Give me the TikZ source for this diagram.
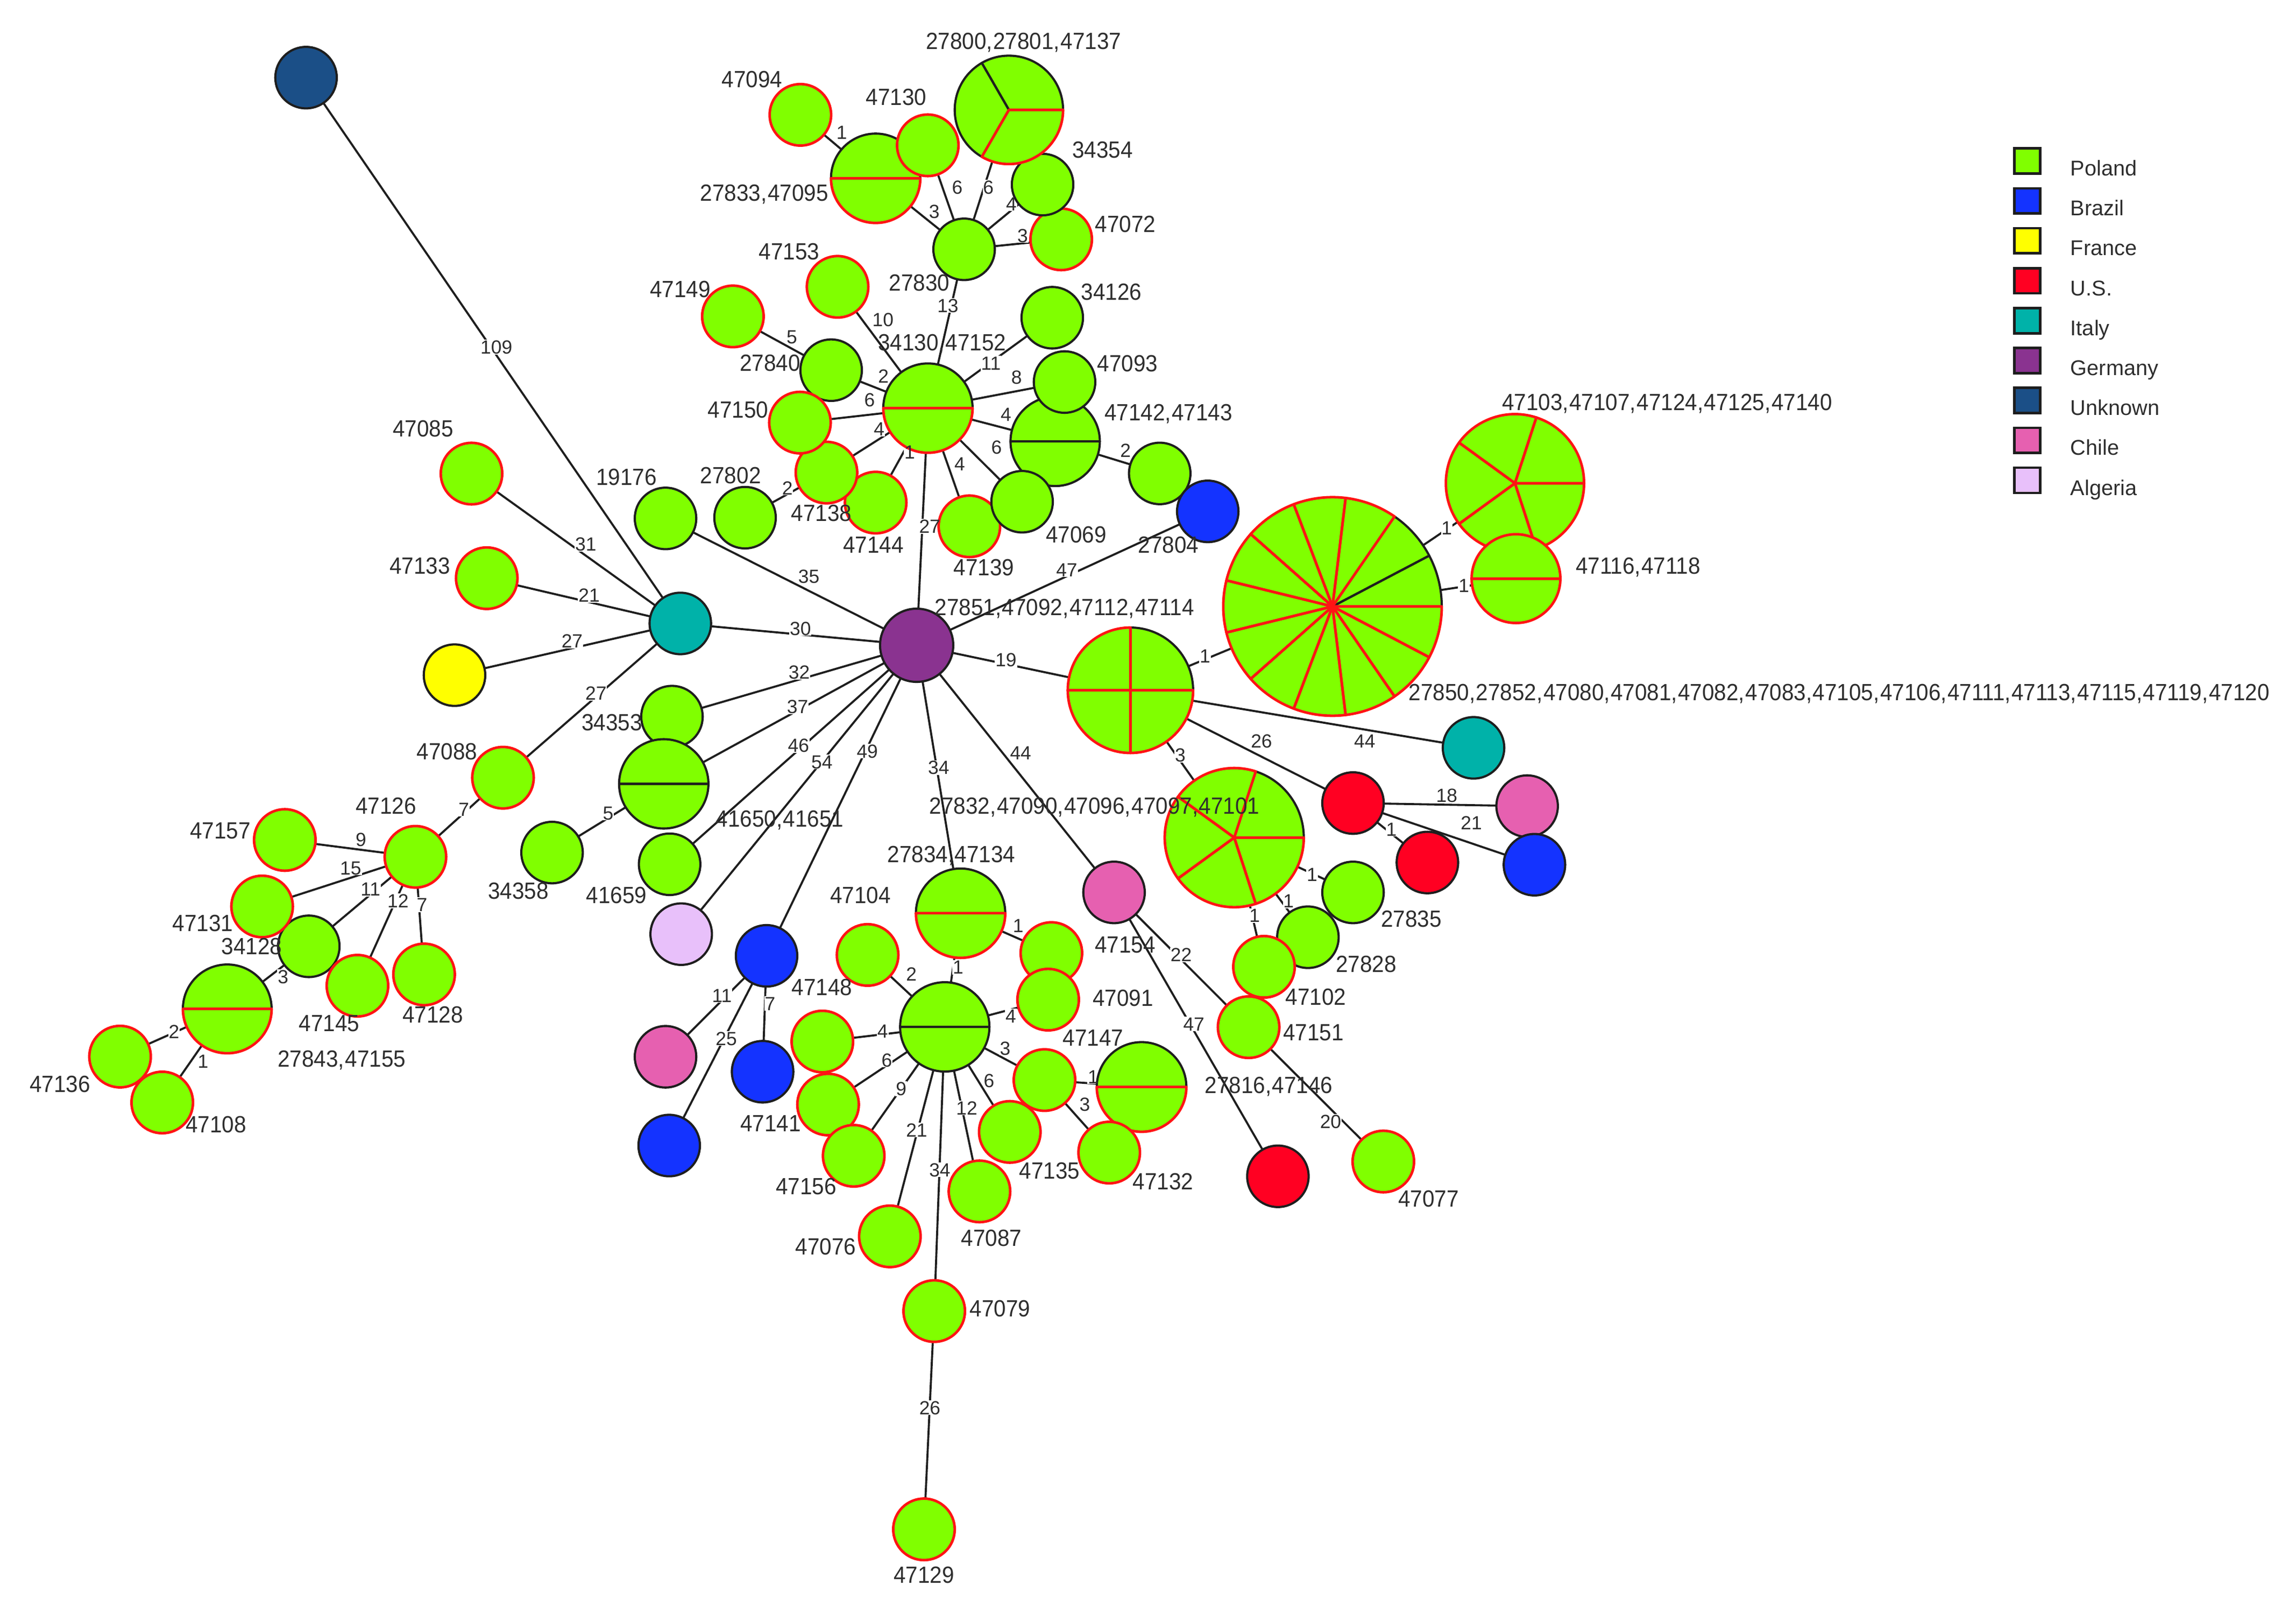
\documentclass[tikz,border=0pt]{standalone}
\usepackage{fontspec}
\setmainfont{Liberation Sans}
\newfontfamily\nmfont[FakeStretch=0.93]{Liberation Sans}
\definecolor{cgreen}{HTML}{80FF00}
\definecolor{cblue}{HTML}{1433FF}
\definecolor{cyellow}{HTML}{FFFF00}
\definecolor{cred}{HTML}{FF0022}
\definecolor{cteal}{HTML}{00B2A9}
\definecolor{cpurple}{HTML}{8A3390}
\definecolor{cnavy}{HTML}{1B4F87}
\definecolor{cpink}{HTML}{E660B0}
\definecolor{clilac}{HTML}{E8C0FA}
\definecolor{lk}{HTML}{1E1E1E}
\definecolor{rd}{HTML}{FF1414}
\definecolor{tx}{HTML}{2E2E2E}
\pgfdeclarelayer{edges}
\pgfdeclarelayer{labbg}
\pgfdeclarelayer{top}
\pgfsetlayers{edges,labbg,main,top}
\tikzset{
  edge/.style={draw=lk,line width=0.8pt},
  nd/.style={circle,inner sep=0pt,outer sep=0pt,minimum size=0.84cm},
  ndk/.style={nd,draw=lk,line width=0.85pt},
  ndr/.style={nd,draw=rd,line width=1pt},
  slk/.style={draw=lk,line width=0.85pt,line join=round},
  srd/.style={draw=rd,line width=1pt,line join=round},
  nlab/.style={inner sep=0pt,outer sep=0pt,text=tx,text height=6.5pt,text depth=0pt,
    font=\nmfont\fontsize{9.1pt}{11pt}\selectfont},
  elab/.style={inner sep=0pt,outer sep=0pt,text=tx,text height=5.3pt,text depth=0pt,
    font=\fontsize{7.4pt}{9pt}\selectfont},
  elabbg/.style={elab,fill=white,inner sep=0.2pt},
  swatch/.style={draw=lk,line width=1pt,minimum width=0.352cm,minimum height=0.344cm,inner sep=0pt,outer sep=0pt},
  leglab/.style={inner sep=0pt,outer sep=0pt,anchor=base west,text=tx,font=\fontsize{8.3pt}{10pt}\selectfont}
}
% plain node: name, x, y, fill
\newcommand\Nk[4]{\node[ndk,fill=#4] (#1) at (#2,#3) {};}
\newcommand\Nr[3]{\node[ndr,fill=cgreen] (#1) at (#2,#3) {};}
% pie node: name, x, y, radius, slices (start/end/style)
\newcommand\Pie[5]{%
  \pgfmathsetmacro\rr{#4*0.02}%
  \node[circle,inner sep=0pt,outer sep=0pt,minimum size=2*\rr cm,fill=cgreen] (#1) at (#2,#3) {};
  \foreach \sa/\sb/\sc in {#5} {
    \draw[\sc] (#2,#3) -- ++(\sa:\rr cm) arc[start angle=\sa,end angle=\sb,radius=\rr cm] -- cycle;
  }%
}
% edge: a, b, label, label x, label y
\newcommand\E[5]{%
  \begin{pgfonlayer}{edges}\draw[edge] (#1) -- (#2);\end{pgfonlayer}%
  \begin{pgfonlayer}{labbg}\node[elabbg] (b#1#2) at (#4,#5) {\phantom{#3}};\end{pgfonlayer}%
  \begin{pgfonlayer}{top}\node[elab] (l#1#2) at (#4,#5) {#3};\end{pgfonlayer}%
}
% name label
\newcommand\Nm[4]{\begin{pgfonlayer}{top}\node[nlab] (t#1) at (#2,#3) {\spaceskip=0.3pt\relax #4};\end{pgfonlayer}}
\begin{document}
\begin{tikzpicture}[x=0.02cm,y=-0.02cm]
\useasboundingbox (0,0) rectangle (1568,1097);

% ---------- nodes, in stacking order ----------
\Nk{unk}{209}{53}{cnavy}
\Nr{a47094}{546.6}{78.4}
\Pie{p27833}{598}{121.7}{30.5}{0/180/slk,180/360/srd}
\Nr{a47130}{633.6}{99.2}
\Nr{a47072}{724.7}{163.4}
\Nk{a34354}{712}{126}{cgreen}
\Pie{p27800}{689}{75}{37}{0/120/slk,120/240/slk,240/360/srd}
\Nk{a27830}{658.4}{170.2}{cgreen}
\Nr{a47153}{572}{195.8}
\Nr{a47149}{500.5}{216}
\Nk{a34126}{718.6}{216.9}{cgreen}
\Nk{a27840}{567.6}{252.7}{cgreen}
\Pie{p34130}{633.7}{278.6}{30.5}{0/180/slk,180/360/srd}
\Pie{p47142}{720.6}{301.3}{30.5}{0/180/slk,180/360/slk}
\Nk{a47093}{727}{260.8}{cgreen}
\Nr{a47144}{598}{343.1}
\Nr{a47138}{564.4}{322.6}
\Nr{a47150}{546.3}{288.5}
\Nr{a47139}{662}{359.3}
\Nk{a47069}{698}{342.5}{cgreen}
\Nk{a19176}{454.5}{353.9}{cgreen}
\Nk{a27802}{508.8}{353.4}{cgreen}
\Nk{aitaly}{464.6}{425.6}{cteal}
\node[ndk,fill=cpurple,minimum size=1cm] (agerm) at (626,440.5) {};
\Nk{a27804}{792}{323.2}{cgreen}
\Nk{ablue}{824.8}{349.1}{cblue}
\Pie{pbig}{910}{414}{74.6}{0/27.7/slk,27.7/55.4/slk,55.4/83.1/srd,83.1/110.8/srd,110.8/138.5/srd,138.5/166.2/srd,166.2/193.8/srd,193.8/221.5/srd,221.5/249.2/srd,249.2/276.9/srd,276.9/304.6/srd,304.6/332.3/srd,332.3/360/srd}
\Pie{p47103}{1034.6}{329.9}{47.2}{0/72/srd,72/144/srd,144/216/srd,216/288/srd,288/360/srd}
\Pie{p47116}{1035.3}{395}{30.3}{0/180/srd,180/360/srd}
\Pie{p27851}{772}{471.2}{42.8}{0/90/slk,90/180/srd,180/270/srd,270/360/srd}
\Nk{ateal}{1006.3}{510.5}{cteal}
\Nk{ared}{924}{548.2}{cred}
\Nk{achile}{1042.9}{550.3}{cpink}
\Nk{ared2}{974.8}{588.8}{cred}
\Nk{ablue2}{1047.9}{590.3}{cblue}
\Pie{p27832}{842.9}{571.8}{47.5}{0/72/slk,72/144/srd,144/216/srd,216/288/srd,288/360/srd}
\Nk{a27828}{893.2}{639.8}{cgreen}
\Nk{a27835}{924}{609.2}{cgreen}
\Nr{a47102}{863.2}{660}
\Nr{a47151}{852.7}{701.2}
\Nk{a47154}{760.8}{609.2}{cpink}
\Pie{p27816}{779.6}{742}{30.6}{0/180/slk,180/360/srd}
\Nr{a47135}{689.6}{772.7}
\Nr{a47147}{713.3}{737.3}
\Nr{a47132}{757.5}{786.8}
\Nk{aus3}{872.7}{803}{cred}
\Nr{a47077}{944.7}{792.9}
\Nr{aup}{718}{650.6}
\Nr{a47091}{715.8}{682.4}
\Pie{p27834}{656}{623.4}{30.5}{0/180/slk,180/360/srd}
\Nr{a47104}{592.5}{651.9}
\Pie{pcen}{645.2}{701}{30.5}{0/180/slk,180/360/slk}
\Nk{aalg}{465.2}{637.7}{clilac}
\Nk{ablue3}{523.5}{652.5}{cblue}
\Nk{a41659}{457.3}{590}{cgreen}
\Nk{achile3}{454.5}{721.4}{cpink}
\Nk{ablue4}{520.8}{731.6}{cblue}
\Nk{ablue5}{457}{782}{cblue}
\Nr{aleft}{561.6}{711}
\Nr{a47141}{565.5}{754}
\Nr{a47156}{583}{789}
\Nr{a47076}{607.7}{844}
\Nr{a47087}{668.9}{813.3}
\Nr{a47079}{638}{895}
\Nr{a47129}{631}{1044}
\Nr{a47085}{322}{323.3}
\Nr{a47133}{332.4}{394.7}
\Nk{ayellow}{310.4}{460.9}{cyellow}
\Nk{a34353}{458.9}{489.2}{cgreen}
\Pie{p41650}{453.3}{535.1}{30.5}{0/180/slk,180/360/slk}
\Nr{a47088}{343.5}{530.9}
\Nk{a34358}{377}{582}{cgreen}
\Nr{a47126}{283.7}{584.9}
\Nr{a47157}{194.5}{573.4}
\Nk{a34128}{210.9}{646}{cgreen}
\Nr{a47131}{179}{618.8}
\Nr{a47145}{244.1}{672.9}
\Nr{a47128}{289.6}{665.2}
\Pie{p27843}{155.2}{688.7}{30.3}{0/180/slk,180/360/srd}
\Nr{a47136}{82}{721.3}
\Nr{a47108}{110.8}{752.6}

% ---------- connectors with their numbers ----------
\E{unk}{aitaly}{109}{339}{237}
\E{a47085}{aitaly}{31}{400}{371.5}
\E{a47133}{aitaly}{21}{402.3}{406.3}
\E{ayellow}{aitaly}{27}{390.7}{437.6}
\E{a47088}{aitaly}{27}{407}{473.2}
\E{aitaly}{agerm}{30}{546.6}{429}
\E{a19176}{agerm}{35}{552.4}{393.3}
\E{a34353}{agerm}{32}{545.8}{458.9}
\E{p41650}{agerm}{37}{544.7}{482.4}
\E{a41659}{agerm}{46}{545.3}{508.8}
\E{aalg}{agerm}{54}{561.3}{520}
\E{ablue3}{agerm}{49}{592.3}{512.7}
\E{p27834}{agerm}{34}{641}{524}
\E{a47154}{agerm}{44}{697}{514}
\E{p27851}{agerm}{19}{687}{450.4}
\E{ablue}{agerm}{47}{728.5}{389}
\E{p34130}{agerm}{27}{634.9}{359.3}
\E{p34130}{a27830}{13}{647.3}{208.6}
\E{p34130}{a47153}{10}{603}{218}
\E{p34130}{a27840}{2}{603.3}{256.8}
\E{p34130}{a34126}{11}{676.7}{248}
\E{p34130}{a47093}{8}{694.2}{257.3}
\E{p34130}{a47150}{6}{593.9}{273}
\E{p34130}{p47142}{4}{687}{282.7}
\E{p34130}{a47138}{4}{600.4}{292.9}
\E{p34130}{a47144}{1}{621.2}{308.5}
\E{p34130}{a47069}{6}{680.6}{305.2}
\E{p34130}{a47139}{4}{655.4}{316.7}
\E{a27840}{a47149}{5}{540.8}{229.9}
\E{a47138}{a27802}{2}{537.7}{333}
\E{a27830}{p27833}{3}{638}{144.3}
\E{a27830}{a47130}{6}{653.7}{127.9}
\E{a27830}{p27800}{6}{675}{127.9}
\E{a27830}{a34354}{4}{690.7}{139}
\E{a27830}{a47072}{3}{698.4}{160.7}
\E{p27833}{a47094}{1}{574.8}{90.5}
\E{p47142}{a27804}{2}{768.6}{307.4}
\E{p27851}{pbig}{1}{822.9}{447.6}
\E{pbig}{p47103}{1}{988}{360.5}
\E{pbig}{p47116}{1}{999.7}{399.5}
\E{p27851}{ared}{26}{861.5}{506}
\E{p27851}{ateal}{44}{932}{506}
\E{p27851}{p27832}{3}{806}{515.5}
\E{ared}{achile}{18}{988}{543}
\E{ared}{ablue2}{21}{1004.8}{561.5}
\E{ared}{ared2}{1}{950.2}{566}
\E{p27832}{a27835}{1}{896}{597}
\E{p27832}{a27828}{1}{880}{615}
\E{p27832}{a47102}{1}{856.8}{625}
\E{a47154}{a47151}{22}{806.6}{651.8}
\E{a47151}{a47077}{20}{908.7}{765.4}
\E{a47154}{aus3}{47}{815.3}{699}
\E{p27834}{aup}{1}{695.3}{632}
\E{p27834}{pcen}{1}{654.3}{660.3}
\E{pcen}{a47104}{2}{622.4}{664.8}
\E{pcen}{a47091}{4}{690.3}{693.5}
\E{pcen}{aleft}{4}{602.8}{703.8}
\E{pcen}{a47147}{3}{686.4}{715.6}
\E{pcen}{a47141}{6}{605.6}{723.5}
\E{pcen}{a47135}{6}{675.4}{737.6}
\E{pcen}{a47156}{9}{615.4}{743.2}
\E{pcen}{a47087}{12}{660.2}{756.3}
\E{pcen}{a47076}{21}{626}{771.3}
\E{pcen}{a47079}{34}{641.8}{798.5}
\E{a47079}{a47129}{26}{635}{961}
\E{a47147}{p27816}{1}{746.5}{735}
\E{a47147}{a47132}{3}{740.8}{753.9}
\E{ablue3}{achile3}{11}{493}{679.5}
\E{ablue3}{ablue4}{7}{525.9}{685}
\E{ablue3}{ablue5}{25}{496}{709}
\E{p41650}{a34358}{5}{415.3}{555}
\E{a47088}{a47126}{7}{316.8}{552.5}
\E{a47126}{a47157}{9}{246.5}{573}
\E{a47126}{a47131}{15}{239.5}{592.5}
\E{a47126}{a34128}{11}{253}{607}
\E{a47126}{a47145}{12}{271.8}{615}
\E{a47126}{a47128}{7}{288.2}{617.6}
\E{a34128}{p27843}{3}{193.3}{666.8}
\E{p27843}{a47136}{2}{118.8}{704.2}
\E{p27843}{a47108}{1}{138.7}{724.5}

% ---------- strain names ----------
\Nm{n27800}{699}{27.9}{27800, 27801, 47137}
\Nm{n47094}{513.6}{54}{47094}
\Nm{n47130}{612}{66}{47130}
\Nm{n34354}{753}{102}{34354}
\Nm{n27833}{522}{131.6}{27833, 47095}
\Nm{n47072}{768.5}{153}{47072}
\Nm{n47153}{539}{171.4}{47153}
\Nm{n27830}{627.8}{193}{27830}
\Nm{n47149}{464.5}{197.3}{47149}
\Nm{n34126}{759}{199}{34126}
\Nm{n34130}{643.4}{233.7}{34130, 47152}
\Nm{n27840}{526}{247.7}{27840}
\Nm{n47093}{770}{248}{47093}
\Nm{n47150}{504}{279.5}{47150}
\Nm{n47142}{798}{281.4}{47142, 47143}
\Nm{n19176}{427.8}{325.4}{19176}
\Nm{n27802}{499}{324.4}{27802}
\Nm{n47138}{561}{350}{47138}
\Nm{n47144}{596.5}{371.6}{47144}
\Nm{n47069}{735}{364.8}{47069}
\Nm{n47139}{672}{387.2}{47139}
\Nm{n27804}{798}{371.7}{27804}
\Nm{n27851}{727}{414.3}{27851, 47092, 47112, 47114}
\Nm{n47103}{1138.5}{274.4}{47103, 47107, 47124, 47125, 47140}
\Nm{n47116}{1118.7}{386}{47116, 47118}
\Nm{n27850}{1256}{472.3}{27850, 27852, 47080, 47081, 47082, 47083, 47105, 47106, 47111, 47113, 47115, 47119, 47120}
\Nm{n27832}{747.5}{549.8}{27832, 47090, 47096, 47097, 47101}
\Nm{n47085}{289}{292.4}{47085}
\Nm{n47133}{286.7}{386}{47133}
\Nm{n34353}{417.9}{493}{34353}
\Nm{n47088}{305.3}{513}{47088}
\Nm{n41650}{532.5}{558.6}{41650, 41651}
\Nm{n41659}{421}{611}{41659}
\Nm{n34358}{354}{608}{34358}
\Nm{n47126}{263.6}{550}{47126}
\Nm{n47157}{150.4}{567}{47157}
\Nm{n47131}{138.5}{630}{47131}
\Nm{n34128}{172}{645.8}{34128}
\Nm{n47145}{224.9}{698.2}{47145}
\Nm{n47128}{295.5}{692.6}{47128}
\Nm{n27843}{233.4}{722.5}{27843, 47155}
\Nm{n47136}{41}{740}{47136}
\Nm{n47108}{147.6}{767.3}{47108}
\Nm{n27834}{649.7}{583}{27834, 47134}
\Nm{n47104}{587.6}{611}{47104}
\Nm{n47148}{561.4}{673.9}{47148}
\Nm{n47091}{767}{681}{47091}
\Nm{n47147}{746.6}{708.4}{47147}
\Nm{n47154}{768.4}{644.7}{47154}
\Nm{n27835}{963.8}{627}{27835}
\Nm{n27828}{933}{657.8}{27828}
\Nm{n47102}{898.7}{680.5}{47102}
\Nm{n47151}{897}{704.8}{47151}
\Nm{n27816}{866.5}{740.7}{27816, 47146}
\Nm{n47135}{716.7}{799}{47135}
\Nm{n47132}{794.3}{806.4}{47132}
\Nm{n47077}{975.6}{818}{47077}
\Nm{n47141}{526.2}{766.6}{47141}
\Nm{n47156}{550.5}{809.7}{47156}
\Nm{n47076}{564}{851}{47076}
\Nm{n47087}{677}{845}{47087}
\Nm{n47079}{683}{893}{47079}
\Nm{n47129}{631}{1075}{47129}

% ---------- legend ----------
\foreach \lab/\col [count=\i from 0] in {Poland/cgreen,Brazil/cblue,France/cyellow,U.S./cred,Italy/cteal,Germany/cpurple,Unknown/cnavy,Chile/cpink,Algeria/clilac} {
  \node[swatch,fill=\col] (sw\i) at (1384.5,{109.9+27.25*\i}) {};
  \node[leglab] (lg\i) at (1414,{120+27.25*\i}) {\lab};
}
\end{tikzpicture}
\end{document}
